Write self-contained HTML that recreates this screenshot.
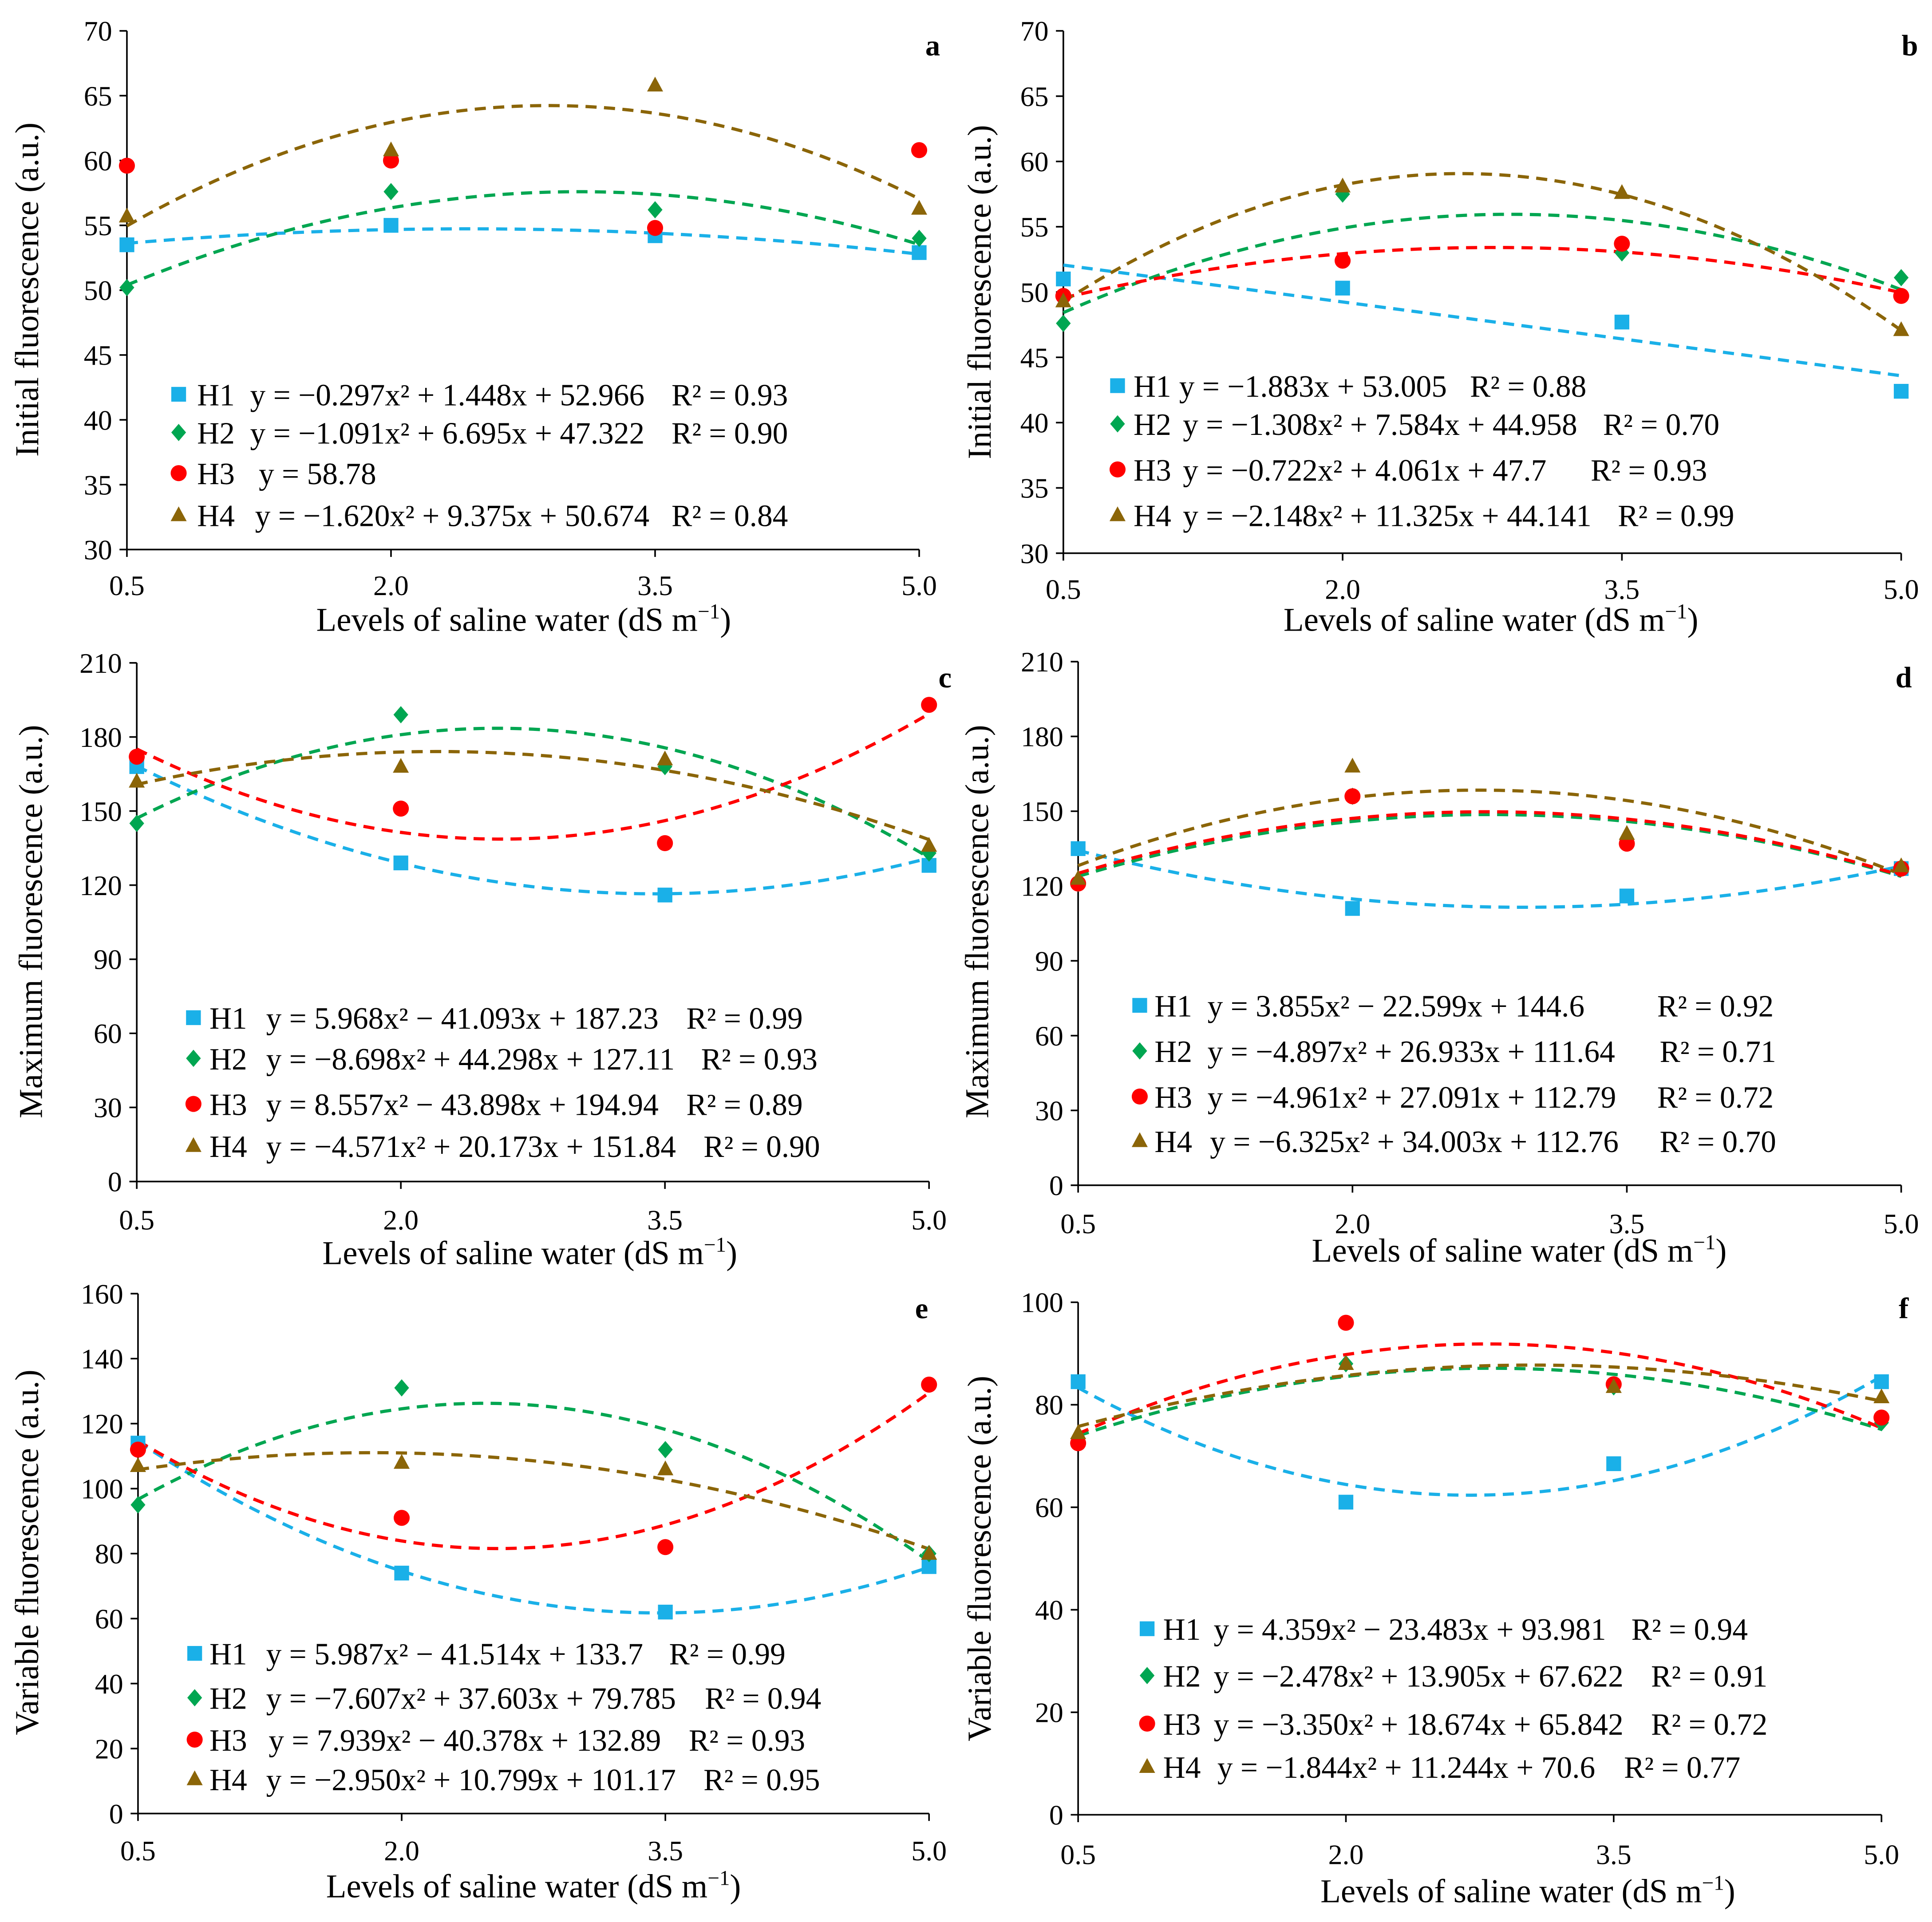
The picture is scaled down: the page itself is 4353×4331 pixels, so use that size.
<!DOCTYPE html>
<html><head><meta charset="utf-8"><style>
html,body{margin:0;padding:0;background:#fff}
svg{display:block}
text{font-family:"Liberation Serif",serif;fill:#000}
</style></head><body>
<svg id="chart" width="4353" height="4331" viewBox="0 0 1568 1560" xmlns="http://www.w3.org/2000/svg"></svg>
<script>
const xLevels = [0.5, 2.0, 3.5, 5.0];
const xTickLabels = ["0.5","2.0","3.5","5.0"];
const seriesNames = ["H1","H2","H3","H4"];
const seriesColors = ["#1ab0e8","#00a651","#ff0000","#8b6508"];

const a_points = [[53.5,55,54.2,52.9],[50.2,57.6,56.2,54],[59.6,60,54.8,60.8],[55.7,60.8,65.8,56.3]];
const a_coef = [[-0.297,1.448,52.966],[-1.091,6.695,47.322],null,[-1.620,9.375,50.674]];
const a_eq = ["y = −0.297x² + 1.448x + 52.966","y = −1.091x² + 6.695x + 47.322","y = 58.78","y = −1.620x² + 9.375x + 50.674"];
const a_r2 = ["R² = 0.93","R² = 0.90","","R² = 0.84"];
const a_yticks = [30,35,40,45,50,55,60,65,70];

const b_points = [[51,50.3,47.7,42.4],[47.6,57.5,53,51.1],[49.7,52.4,53.7,49.7],[49.3,58.1,57.6,47.1]];
const b_coef = [[0,-1.883,53.005],[-1.308,7.584,44.958],[-0.722,4.061,47.7],[-2.148,11.325,44.141]];
const b_eq = ["y = −1.883x + 53.005","y = −1.308x² + 7.584x + 44.958","y = −0.722x² + 4.061x + 47.7","y = −2.148x² + 11.325x + 44.141"];
const b_r2 = ["R² = 0.88","R² = 0.70","R² = 0.93","R² = 0.99"];
const b_yticks = [30,35,40,45,50,55,60,65,70];

const c_points = [[168,129,116,128],[145,189,168,133],[172,151,137,193],[162,168,171,136]];
const c_coef = [[5.968,-41.093,187.23],[-8.698,44.298,127.11],[8.557,-43.898,194.94],[-4.571,20.173,151.84]];
const c_eq = ["y = 5.968x² − 41.093x + 187.23","y = −8.698x² + 44.298x + 127.11","y = 8.557x² − 43.898x + 194.94","y = −4.571x² + 20.173x + 151.84"];
const c_r2 = ["R² = 0.99","R² = 0.93","R² = 0.89","R² = 0.90"];
const c_yticks = [0,30,60,90,120,150,180,210];

const d_points = [[135,111,116,127],[121,156,138,127],[121,156,137,127],[123,168,141,128]];
const d_coef = [[3.855,-22.599,144.6],[-4.897,26.933,111.64],[-4.961,27.091,112.79],[-6.325,34.003,112.76]];
const d_eq = ["y = 3.855x² − 22.599x + 144.6","y = −4.897x² + 26.933x + 111.64","y = −4.961x² + 27.091x + 112.79","y = −6.325x² + 34.003x + 112.76"];
const d_r2 = ["R² = 0.92","R² = 0.71","R² = 0.72","R² = 0.70"];
const d_yticks = [0,30,60,90,120,150,180,210];

const e_points = [[114,74,62,76],[95,131,112,80],[112,91,82,132],[107,108,106,80]];
const e_coef = [[5.987,-41.514,133.7],[-7.607,37.603,79.785],[7.939,-40.378,132.89],[-2.950,10.799,101.17]];
const e_eq = ["y = 5.987x² − 41.514x + 133.7","y = −7.607x² + 37.603x + 79.785","y = 7.939x² − 40.378x + 132.89","y = −2.950x² + 10.799x + 101.17"];
const e_r2 = ["R² = 0.99","R² = 0.94","R² = 0.93","R² = 0.95"];
const e_yticks = [0,20,40,60,80,100,120,140,160];

const f_points = [[84.5,61,68.5,84.5],[73.5,88,83.5,76.5],[72.5,96,84,77.5],[74.5,88,83.5,81.5]];
const f_coef = [[4.359,-23.483,93.981],[-2.478,13.905,67.622],[-3.350,18.674,65.842],[-1.844,11.244,70.6]];
const f_eq = ["y = 4.359x² − 23.483x + 93.981","y = −2.478x² + 13.905x + 67.622","y = −3.350x² + 18.674x + 65.842","y = −1.844x² + 11.244x + 70.6"];
const f_r2 = ["R² = 0.94","R² = 0.91","R² = 0.72","R² = 0.77"];
const f_yticks = [0,20,40,60,80,100];

const NS="http://www.w3.org/2000/svg";
const svg=document.getElementById('chart');
function el(tag,attrs,parent,text){const e=document.createElementNS(NS,tag);for(const k in attrs)e.setAttribute(k,attrs[k]);if(text!==undefined)e.textContent=text;(parent||svg).appendChild(e);return e;}

function marker(g,i,x,y){
  const c=seriesColors[i];let m;
  if(i===0)m=el('rect',{x:x-6,y:y-6,width:12,height:12,fill:c},g);
  else if(i===1)m=el('polygon',{points:`${x},${y-7} ${x+6},${y} ${x},${y+7} ${x-6},${y}`,fill:c},g);
  else if(i===2)m=el('circle',{cx:x,cy:y,r:6.5,fill:c},g);
  else m=el('polygon',{points:`${x},${y-7} ${x+6.5},${y+5} ${x-6.5},${y+5}`,fill:c},g);
  return m;
}

const panels=[
 {id:'a',pts:a_points,coef:a_coef,eq:a_eq,r2:a_r2,yt:a_yticks,x0:103,x1:746,yb:446,yt0:25,ytitle:"Initial fluorescence (a.u.)",ytx:22,yty:235,xty:503,xtc:425,xl:475,lab:[757,45],
  mk:145,rows:[320,351,384,418],lx:160,eqx:[203,203,210,207],r2x:[545,545,545,545]},
 {id:'b',pts:b_points,coef:b_coef,eq:b_eq,r2:b_r2,yt:b_yticks,x0:863,x1:1543,yb:449,yt0:25,ytitle:"Initial fluorescence (a.u.)",ytx:795,yty:237,xty:503,xtc:1210,xl:478,lab:[1550,45],
  mk:907,rows:[313,344,381,418],lx:920,eqx:[957,960,960,960],r2x:[1193,1301,1291,1313]},
 {id:'c',pts:c_points,coef:c_coef,eq:c_eq,r2:c_r2,yt:c_yticks,x0:111,x1:754,yb:959,yt0:538,ytitle:"Maximum fluorescence (a.u.)",ytx:25,yty:748,xty:1017,xtc:430,xl:990,lab:[767,558],
  mk:157,rows:[826,859,896,930],lx:170,eqx:[216,216,216,216],r2x:[557,569,557,571]},
 {id:'d',pts:d_points,coef:d_coef,eq:d_eq,r2:d_r2,yt:d_yticks,x0:875,x1:1543,yb:962,yt0:537,ytitle:"Maximum fluorescence (a.u.)",ytx:793,yty:748,xty:1015,xtc:1233,xl:993,lab:[1545,558],
  mk:925,rows:[816,853,890,926],lx:937,eqx:[980,980,980,982],r2x:[1345,1347,1345,1347]},
 {id:'e',pts:e_points,coef:e_coef,eq:e_eq,r2:e_r2,yt:e_yticks,x0:112,x1:754,yb:1472,yt0:1050,ytitle:"Variable fluorescence (a.u.)",ytx:22,yty:1260,xty:1531,xtc:433,xl:1502,lab:[748,1070],
  mk:158,rows:[1342,1378,1412,1444],lx:170,eqx:[216,216,218,216],r2x:[543,572,559,571]},
 {id:'f',pts:f_points,coef:f_coef,eq:f_eq,r2:f_r2,yt:f_yticks,x0:875,x1:1527,yb:1473,yt0:1057,ytitle:"Variable fluorescence (a.u.)",ytx:795,yty:1265,xty:1535,xtc:1240,xl:1505,lab:[1545,1070],
  mk:931,rows:[1322,1360,1399,1434],lx:944,eqx:[985,985,985,988],r2x:[1324,1340,1340,1318]}
];

panels.forEach(p=>{
  const g=el('g',{});
  
  
  const ymin=p.yt[0],ymax=p.yt[p.yt.length-1];
  const X=v=>p.x0+(v-0.5)/(4.5)*(p.x1-p.x0);
  const Y=v=>p.yb-(v-ymin)/(ymax-ymin)*(p.yb-p.yt0);
  const ya=el('line',{x1:p.x0,y1:p.yt0,x2:p.x0,y2:p.yb,stroke:'#000','stroke-width':1.3},g);
  
  
  const xa=el('line',{x1:p.x0,y1:p.yb,x2:p.x1,y2:p.yb,stroke:'#000','stroke-width':1.3},g);
  
  
  p.yt.forEach(t=>{
    el('line',{x1:p.x0-6,y1:Y(t),x2:p.x0,y2:Y(t),stroke:'#000','stroke-width':1.3},g);
    const tl=el('text',{x:p.x0-12,y:Y(t)+8,'text-anchor':'end','font-size':23},g,String(t));
    
    
  });
  xLevels.forEach((v,i)=>{
    el('line',{x1:X(v),y1:p.yb,x2:X(v),y2:p.yb+6,stroke:'#000','stroke-width':1.3},g);
    const tl=el('text',{x:X(v),y:p.xl+8,'text-anchor':'middle','font-size':23},g,xTickLabels[i]);
    
    
  });
  const yt=el('text',{x:0,y:0,'text-anchor':'middle','font-size':27,transform:`translate(${p.ytx+9},${p.yty}) rotate(-90)`},g,p.ytitle);
  
  
  const xt=el('text',{x:p.xtc,y:p.xty+9,'text-anchor':'middle','font-size':27},g);
  
  
  el('tspan',{},xt,"Levels of saline water (dS m");
  el('tspan',{dy:-10,'font-size':17},xt,"−1");
  el('tspan',{dy:10},xt,")");
  const lb=el('text',{x:p.lab[0],y:p.lab[1],'text-anchor':'middle','font-size':24,'font-weight':'bold'},g,p.id);
  
  
  p.coef.forEach((c,i)=>{
    if(!c)return;
    let d='';
    for(let k=0;k<=90;k++){const x=0.5+4.5*k/90;const y=c[0]*x*x+c[1]*x+c[2];d+=(k?'L':'M')+X(x).toFixed(2)+','+Y(y).toFixed(2);}
    const path=el('path',{d:d,fill:'none',stroke:seriesColors[i],'stroke-width':2.6,'stroke-dasharray':'9,6'},g);
    
    
  });
  p.pts.forEach((s,i)=>{
    s.forEach((v,j)=>{
      const m=marker(g,i,X(xLevels[j]),Y(v));
      
      
    });
  });
  seriesNames.forEach((n,i)=>{
    const lg=el('g',{},g);
    
    
    const ry=p.rows[i];
    marker(lg,i,p.mk,ry);
    el('text',{x:p.lx,y:ry+9,'font-size':25},lg,n);
    el('text',{x:p.eqx[i],y:ry+9,'font-size':25},lg,p.eq[i]);
    if(p.r2[i])el('text',{x:p.r2x[i],y:ry+9,'font-size':25},lg,p.r2[i]);
  });
});
</script>
</body></html>
